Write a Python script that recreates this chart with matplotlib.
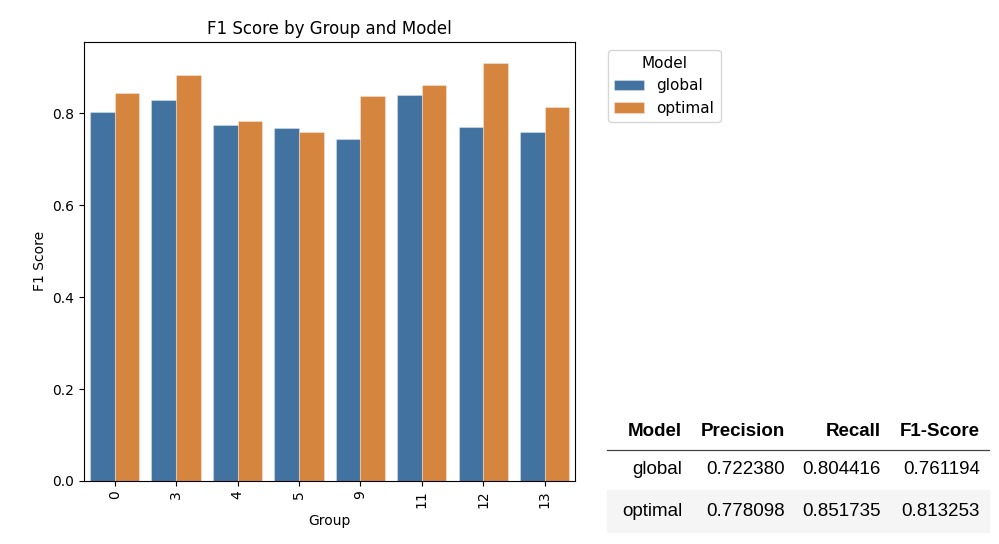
import matplotlib
matplotlib.use("Agg")
import matplotlib.pyplot as plt
import pandas as pd
import seaborn as sns

groups = ["0", "3", "4", "5", "9", "11", "12", "13"]
models = ["global", "optimal"]
f1_global = [0.802, 0.830, 0.774, 0.769, 0.744, 0.839, 0.771, 0.759]
f1_optimal = [0.844, 0.884, 0.784, 0.759, 0.837, 0.862, 0.910, 0.814]

table_cols = ["Model", "Precision", "Recall", "F1-Score"]
table_rows = [
    ["global", "0.722380", "0.804416", "0.761194"],
    ["optimal", "0.778098", "0.851735", "0.813253"],
]

df = pd.DataFrame({
    "Group": groups * 2,
    "Model": ["global"] * len(groups) + ["optimal"] * len(groups),
    "F1 Score": f1_global + f1_optimal,
})

fig = plt.figure(figsize=(9.99, 5.44), dpi=100)
ax = fig.add_axes([0.084, 0.116, 0.492, 0.807])
sns.barplot(data=df, x="Group", y="F1 Score", hue="Model", hue_order=models,
            order=groups, ax=ax, palette=["#4273a0", "#d6853f"],
            saturation=1, edgecolor=(1, 1, 1, 0.3), linewidth=0.8)
ax.set_title("F1 Score by Group and Model", fontsize=12)
ax.tick_params(axis="x", rotation=90)
ax.legend(title="Model", loc="upper left", bbox_to_anchor=(1.05, 1.0),
          fontsize=11, title_fontsize=11)

# summary table drawn as text
tf = ["Liberation Sans", "DejaVu Sans"]
col_right = [0.683, 0.786, 0.882, 0.981]
y_head = 1 - 431 / 544
y_rows = [1 - 470 / 544, 1 - 512 / 544]
for x, c in zip(col_right, table_cols):
    fig.text(x, y_head, c, ha="right", va="center", fontsize=13.5,
             fontweight="bold", family=tf)
fig.add_artist(plt.Line2D([0.608, 0.990], [1 - 450 / 544] * 2,
                          color="#444444", lw=0.9))
fig.add_artist(plt.Rectangle((0.608, 1 - 532 / 544), 0.382, 42 / 544,
                             color="#f5f5f5", zorder=0))
for y, row in zip(y_rows, table_rows):
    for x, v in zip(col_right, row):
        fig.text(x, y, v, ha="right", va="center", fontsize=13.5, family=tf)

fig.savefig("out.png", dpi=100)
